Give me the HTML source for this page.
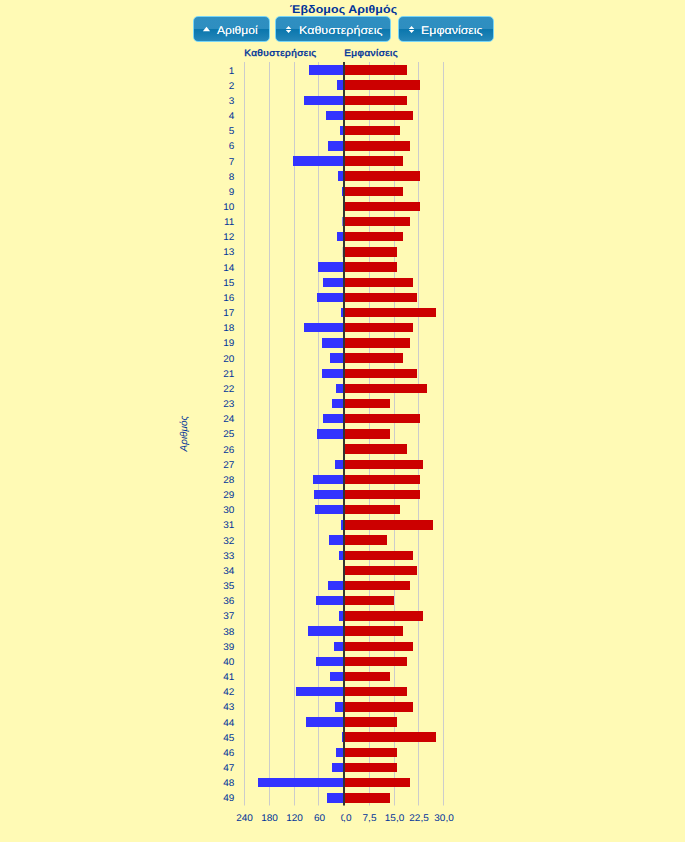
<!DOCTYPE html>
<html><head><meta charset="utf-8"><title>chart</title>
<style>
html,body{margin:0;padding:0;}
body{width:685px;height:842px;background:#fffab5;position:relative;overflow:hidden;text-rendering:geometricPrecision;font-family:"Liberation Sans",sans-serif;}
.title{position:absolute;left:0;width:685px;top:2px;left:1.2px;text-align:center;font-size:12px;letter-spacing:0.1px;font-weight:bold;color:#003399;line-height:14px;transform:scale(1.03,0.935);transform-origin:50% 11px;}
.btn{position:absolute;top:16px;height:24px;box-sizing:content-box;border:1px solid #77d5f7;border-radius:5px;
 background:linear-gradient(to bottom,#2f8fc1 0%,#2e8ec0 49%,#0a76ad 50%,#1a80b4 80%,#2788ba 100%);
 color:#fff;font-size:12px;line-height:24px;white-space:nowrap;text-shadow:0 0 0.6px rgba(255,255,255,0.7);}
.btn span{position:absolute;top:1px;transform:scale(1.025,0.935);transform-origin:0 16px;letter-spacing:0 !important;}
.btn svg{position:absolute;left:0;top:0;}
</style></head><body>
<div class="title">Έβδομος Αριθμός</div>
<svg width="685" height="842" style="position:absolute;left:0;top:0" font-family="Liberation Sans, sans-serif" text-rendering="geometricPrecision">
<rect x="244" y="62" width="1" height="743.5" fill="#cccccc"/>
<rect x="269" y="62" width="1" height="743.5" fill="#cccccc"/>
<rect x="294" y="62" width="1" height="743.5" fill="#cccccc"/>
<rect x="318" y="62" width="1" height="743.5" fill="#cccccc"/>
<rect x="369" y="62" width="1" height="743.5" fill="#cccccc"/>
<rect x="394" y="62" width="1" height="743.5" fill="#cccccc"/>
<rect x="418" y="62" width="1" height="743.5" fill="#cccccc"/>
<rect x="443" y="62" width="1" height="743.5" fill="#cccccc"/>
<rect x="309.0" y="65" width="35.00" height="10" fill="#3333ff"/>
<rect x="344" y="65" width="63.0" height="10" fill="#cc0000"/>
<text transform="translate(234.3,73.5) scale(1,0.97)" font-size="10" text-anchor="end" fill="#003399">1</text>
<rect x="337.0" y="80" width="7.00" height="10" fill="#3333ff"/>
<rect x="344" y="80" width="76.0" height="10" fill="#cc0000"/>
<text transform="translate(234.3,88.6) scale(1,0.97)" font-size="10" text-anchor="end" fill="#003399">2</text>
<rect x="304.0" y="96" width="40.00" height="9" fill="#3333ff"/>
<rect x="344" y="96" width="63.0" height="9" fill="#cc0000"/>
<text transform="translate(234.3,103.8) scale(1,0.97)" font-size="10" text-anchor="end" fill="#003399">3</text>
<rect x="326.0" y="111" width="18.00" height="9" fill="#3333ff"/>
<rect x="344" y="111" width="69.0" height="9" fill="#cc0000"/>
<text transform="translate(234.3,119.0) scale(1,0.97)" font-size="10" text-anchor="end" fill="#003399">4</text>
<rect x="340.0" y="126" width="4.00" height="9" fill="#3333ff"/>
<rect x="344" y="126" width="56.0" height="9" fill="#cc0000"/>
<text transform="translate(234.3,134.1) scale(1,0.97)" font-size="10" text-anchor="end" fill="#003399">5</text>
<rect x="328.0" y="141" width="16.00" height="10" fill="#3333ff"/>
<rect x="344" y="141" width="66.0" height="10" fill="#cc0000"/>
<text transform="translate(234.3,149.3) scale(1,0.97)" font-size="10" text-anchor="end" fill="#003399">6</text>
<rect x="293.0" y="156" width="51.00" height="10" fill="#3333ff"/>
<rect x="344" y="156" width="59.0" height="10" fill="#cc0000"/>
<text transform="translate(234.3,164.5) scale(1,0.97)" font-size="10" text-anchor="end" fill="#003399">7</text>
<rect x="338.0" y="171" width="6.00" height="10" fill="#3333ff"/>
<rect x="344" y="171" width="76.0" height="10" fill="#cc0000"/>
<text transform="translate(234.3,179.6) scale(1,0.97)" font-size="10" text-anchor="end" fill="#003399">8</text>
<rect x="342.0" y="187" width="2.00" height="9" fill="#3333ff"/>
<rect x="344" y="187" width="59.0" height="9" fill="#cc0000"/>
<text transform="translate(234.3,194.8) scale(1,0.97)" font-size="10" text-anchor="end" fill="#003399">9</text>
<rect x="344" y="202" width="76.0" height="9" fill="#cc0000"/>
<text transform="translate(234.3,210.0) scale(1,0.97)" font-size="10" text-anchor="end" fill="#003399">10</text>
<rect x="342.4" y="217" width="0.80" height="9" fill="#3333ff"/>
<rect x="344" y="217" width="66.0" height="9" fill="#cc0000"/>
<text transform="translate(234.3,225.1) scale(1,0.97)" font-size="10" text-anchor="end" fill="#003399">11</text>
<rect x="337.0" y="232" width="7.00" height="9" fill="#3333ff"/>
<rect x="344" y="232" width="59.0" height="9" fill="#cc0000"/>
<text transform="translate(234.3,240.3) scale(1,0.97)" font-size="10" text-anchor="end" fill="#003399">12</text>
<rect x="342.8" y="247" width="0.45" height="10" fill="#3333ff"/>
<rect x="344" y="247" width="53.0" height="10" fill="#cc0000"/>
<text transform="translate(234.3,255.4) scale(1,0.97)" font-size="10" text-anchor="end" fill="#003399">13</text>
<rect x="318.0" y="262" width="26.00" height="10" fill="#3333ff"/>
<rect x="344" y="262" width="53.0" height="10" fill="#cc0000"/>
<text transform="translate(234.3,270.6) scale(1,0.97)" font-size="10" text-anchor="end" fill="#003399">14</text>
<rect x="323.0" y="278" width="21.00" height="9" fill="#3333ff"/>
<rect x="344" y="278" width="69.0" height="9" fill="#cc0000"/>
<text transform="translate(234.3,285.8) scale(1,0.97)" font-size="10" text-anchor="end" fill="#003399">15</text>
<rect x="317.0" y="293" width="27.00" height="9" fill="#3333ff"/>
<rect x="344" y="293" width="73.0" height="9" fill="#cc0000"/>
<text transform="translate(234.3,300.9) scale(1,0.97)" font-size="10" text-anchor="end" fill="#003399">16</text>
<rect x="341.0" y="308" width="3.00" height="9" fill="#3333ff"/>
<rect x="344" y="308" width="92.0" height="9" fill="#cc0000"/>
<text transform="translate(234.3,316.1) scale(1,0.97)" font-size="10" text-anchor="end" fill="#003399">17</text>
<rect x="304.0" y="323" width="40.00" height="9" fill="#3333ff"/>
<rect x="344" y="323" width="69.0" height="9" fill="#cc0000"/>
<text transform="translate(234.3,331.3) scale(1,0.97)" font-size="10" text-anchor="end" fill="#003399">18</text>
<rect x="322.0" y="338" width="22.00" height="10" fill="#3333ff"/>
<rect x="344" y="338" width="66.0" height="10" fill="#cc0000"/>
<text transform="translate(234.3,346.4) scale(1,0.97)" font-size="10" text-anchor="end" fill="#003399">19</text>
<rect x="330.0" y="353" width="14.00" height="10" fill="#3333ff"/>
<rect x="344" y="353" width="59.0" height="10" fill="#cc0000"/>
<text transform="translate(234.3,361.6) scale(1,0.97)" font-size="10" text-anchor="end" fill="#003399">20</text>
<rect x="322.0" y="369" width="22.00" height="9" fill="#3333ff"/>
<rect x="344" y="369" width="73.0" height="9" fill="#cc0000"/>
<text transform="translate(234.3,376.7) scale(1,0.97)" font-size="10" text-anchor="end" fill="#003399">21</text>
<rect x="336.0" y="384" width="8.00" height="9" fill="#3333ff"/>
<rect x="344" y="384" width="83.0" height="9" fill="#cc0000"/>
<text transform="translate(234.3,391.9) scale(1,0.97)" font-size="10" text-anchor="end" fill="#003399">22</text>
<rect x="332.0" y="399" width="12.00" height="9" fill="#3333ff"/>
<rect x="344" y="399" width="46.0" height="9" fill="#cc0000"/>
<text transform="translate(234.3,407.1) scale(1,0.97)" font-size="10" text-anchor="end" fill="#003399">23</text>
<rect x="323.0" y="414" width="21.00" height="9" fill="#3333ff"/>
<rect x="344" y="414" width="76.0" height="9" fill="#cc0000"/>
<text transform="translate(234.3,422.2) scale(1,0.97)" font-size="10" text-anchor="end" fill="#003399">24</text>
<rect x="317.0" y="429" width="27.00" height="10" fill="#3333ff"/>
<rect x="344" y="429" width="46.0" height="10" fill="#cc0000"/>
<text transform="translate(234.3,437.4) scale(1,0.97)" font-size="10" text-anchor="end" fill="#003399">25</text>
<rect x="344" y="444" width="63.0" height="10" fill="#cc0000"/>
<text transform="translate(234.3,452.6) scale(1,0.97)" font-size="10" text-anchor="end" fill="#003399">26</text>
<rect x="335.0" y="460" width="9.00" height="9" fill="#3333ff"/>
<rect x="344" y="460" width="79.0" height="9" fill="#cc0000"/>
<text transform="translate(234.3,467.7) scale(1,0.97)" font-size="10" text-anchor="end" fill="#003399">27</text>
<rect x="313.0" y="475" width="31.00" height="9" fill="#3333ff"/>
<rect x="344" y="475" width="76.0" height="9" fill="#cc0000"/>
<text transform="translate(234.3,482.9) scale(1,0.97)" font-size="10" text-anchor="end" fill="#003399">28</text>
<rect x="314.0" y="490" width="30.00" height="9" fill="#3333ff"/>
<rect x="344" y="490" width="76.0" height="9" fill="#cc0000"/>
<text transform="translate(234.3,498.1) scale(1,0.97)" font-size="10" text-anchor="end" fill="#003399">29</text>
<rect x="315.0" y="505" width="29.00" height="9" fill="#3333ff"/>
<rect x="344" y="505" width="56.0" height="9" fill="#cc0000"/>
<text transform="translate(234.3,513.2) scale(1,0.97)" font-size="10" text-anchor="end" fill="#003399">30</text>
<rect x="341.0" y="520" width="3.00" height="10" fill="#3333ff"/>
<rect x="344" y="520" width="89.0" height="10" fill="#cc0000"/>
<text transform="translate(234.3,528.4) scale(1,0.97)" font-size="10" text-anchor="end" fill="#003399">31</text>
<rect x="329.0" y="535" width="15.00" height="10" fill="#3333ff"/>
<rect x="344" y="535" width="43.0" height="10" fill="#cc0000"/>
<text transform="translate(234.3,543.5) scale(1,0.97)" font-size="10" text-anchor="end" fill="#003399">32</text>
<rect x="339.0" y="551" width="5.00" height="9" fill="#3333ff"/>
<rect x="344" y="551" width="69.0" height="9" fill="#cc0000"/>
<text transform="translate(234.3,558.7) scale(1,0.97)" font-size="10" text-anchor="end" fill="#003399">33</text>
<rect x="344" y="566" width="73.0" height="9" fill="#cc0000"/>
<text transform="translate(234.3,573.9) scale(1,0.97)" font-size="10" text-anchor="end" fill="#003399">34</text>
<rect x="328.0" y="581" width="16.00" height="9" fill="#3333ff"/>
<rect x="344" y="581" width="66.0" height="9" fill="#cc0000"/>
<text transform="translate(234.3,589.0) scale(1,0.97)" font-size="10" text-anchor="end" fill="#003399">35</text>
<rect x="316.0" y="596" width="28.00" height="9" fill="#3333ff"/>
<rect x="344" y="596" width="50.0" height="9" fill="#cc0000"/>
<text transform="translate(234.3,604.2) scale(1,0.97)" font-size="10" text-anchor="end" fill="#003399">36</text>
<rect x="339.0" y="611" width="5.00" height="10" fill="#3333ff"/>
<rect x="344" y="611" width="79.0" height="10" fill="#cc0000"/>
<text transform="translate(234.3,619.4) scale(1,0.97)" font-size="10" text-anchor="end" fill="#003399">37</text>
<rect x="308.0" y="626" width="36.00" height="10" fill="#3333ff"/>
<rect x="344" y="626" width="59.0" height="10" fill="#cc0000"/>
<text transform="translate(234.3,634.5) scale(1,0.97)" font-size="10" text-anchor="end" fill="#003399">38</text>
<rect x="334.0" y="642" width="10.00" height="9" fill="#3333ff"/>
<rect x="344" y="642" width="69.0" height="9" fill="#cc0000"/>
<text transform="translate(234.3,649.7) scale(1,0.97)" font-size="10" text-anchor="end" fill="#003399">39</text>
<rect x="316.0" y="657" width="28.00" height="9" fill="#3333ff"/>
<rect x="344" y="657" width="63.0" height="9" fill="#cc0000"/>
<text transform="translate(234.3,664.8) scale(1,0.97)" font-size="10" text-anchor="end" fill="#003399">40</text>
<rect x="330.0" y="672" width="14.00" height="9" fill="#3333ff"/>
<rect x="344" y="672" width="46.0" height="9" fill="#cc0000"/>
<text transform="translate(234.3,680.0) scale(1,0.97)" font-size="10" text-anchor="end" fill="#003399">41</text>
<rect x="296.0" y="687" width="48.00" height="9" fill="#3333ff"/>
<rect x="344" y="687" width="63.0" height="9" fill="#cc0000"/>
<text transform="translate(234.3,695.2) scale(1,0.97)" font-size="10" text-anchor="end" fill="#003399">42</text>
<rect x="335.0" y="702" width="9.00" height="10" fill="#3333ff"/>
<rect x="344" y="702" width="69.0" height="10" fill="#cc0000"/>
<text transform="translate(234.3,710.3) scale(1,0.97)" font-size="10" text-anchor="end" fill="#003399">43</text>
<rect x="306.0" y="717" width="38.00" height="10" fill="#3333ff"/>
<rect x="344" y="717" width="53.0" height="10" fill="#cc0000"/>
<text transform="translate(234.3,725.5) scale(1,0.97)" font-size="10" text-anchor="end" fill="#003399">44</text>
<rect x="342.0" y="732" width="2.00" height="10" fill="#3333ff"/>
<rect x="344" y="732" width="92.0" height="10" fill="#cc0000"/>
<text transform="translate(234.3,740.7) scale(1,0.97)" font-size="10" text-anchor="end" fill="#003399">45</text>
<rect x="336.0" y="748" width="8.00" height="9" fill="#3333ff"/>
<rect x="344" y="748" width="53.0" height="9" fill="#cc0000"/>
<text transform="translate(234.3,755.8) scale(1,0.97)" font-size="10" text-anchor="end" fill="#003399">46</text>
<rect x="332.0" y="763" width="12.00" height="9" fill="#3333ff"/>
<rect x="344" y="763" width="53.0" height="9" fill="#cc0000"/>
<text transform="translate(234.3,771.0) scale(1,0.97)" font-size="10" text-anchor="end" fill="#003399">47</text>
<rect x="258.0" y="778" width="86.00" height="9" fill="#3333ff"/>
<rect x="344" y="778" width="66.0" height="9" fill="#cc0000"/>
<text transform="translate(234.3,786.2) scale(1,0.97)" font-size="10" text-anchor="end" fill="#003399">48</text>
<rect x="327.0" y="793" width="17.00" height="10" fill="#3333ff"/>
<rect x="344" y="793" width="46.0" height="10" fill="#cc0000"/>
<text transform="translate(234.3,801.3) scale(1,0.97)" font-size="10" text-anchor="end" fill="#003399">49</text>
<rect x="343" y="62" width="2" height="743.5" fill="#333333"/>
<text transform="translate(244.2,56) scale(1,0.935)" font-size="10" letter-spacing="0.42" stroke="#003399" stroke-width="0.4" fill="#003399">Καθυστερήσεις</text>
<text transform="translate(344.2,56) scale(1,0.935)" font-size="10" letter-spacing="0.42" stroke="#003399" stroke-width="0.4" fill="#003399">Εμφανίσεις</text>
<text transform="translate(244.5,821) scale(1,0.97)" font-size="10" text-anchor="middle" fill="#003399">240</text>
<text transform="translate(269.5,821) scale(1,0.97)" font-size="10" text-anchor="middle" fill="#003399">180</text>
<text transform="translate(294.5,821) scale(1,0.97)" font-size="10" text-anchor="middle" fill="#003399">120</text>
<text transform="translate(319.5,821) scale(1,0.97)" font-size="10" text-anchor="middle" fill="#003399">60</text>
<text transform="translate(369.5,821) scale(1,0.97)" font-size="10" text-anchor="middle" fill="#003399">7,5</text>
<text transform="translate(394.5,821) scale(1,0.97)" font-size="10" text-anchor="middle" fill="#003399">15,0</text>
<text transform="translate(419,821) scale(1,0.97)" font-size="10" text-anchor="middle" fill="#003399">22,5</text>
<text transform="translate(444,821) scale(1,0.97)" font-size="10" text-anchor="middle" fill="#003399">30,0</text>
<clipPath id="c1"><rect x="330" y="805" width="13.7" height="30"/></clipPath>
<clipPath id="c2"><rect x="344.0" y="805" width="30" height="30"/></clipPath>
<g clip-path="url(#c1)"><text transform="translate(343.6,821) scale(1,0.97)" font-size="10" text-anchor="middle" fill="#003399">0</text></g>
<g clip-path="url(#c2)"><text transform="translate(344.5,821) scale(1,0.97)" font-size="10" text-anchor="middle" fill="#003399">0,0</text></g>
<text transform="translate(187.3,433.6) rotate(-90) scale(0.99,1)" font-size="10" font-style="italic" text-anchor="middle" fill="#003399">Αριθμός</text>
</svg>
<div class="btn" style="left:193.4px;width:74.6px;"><svg width="30" height="24"><path d="M8.9 14.2 L12.5 9.8 L16.1 14.2 Z" fill="#fff"/></svg><span style="left:23.0px;transform:scale(1.005,0.935)">Αριθμοί</span></div>
<div class="btn" style="left:275.3px;width:114.1px;"><svg width="30" height="24"><path d="M9.8 12 L12.55 9 L15.3 12 Z M9.8 13.1 L12.55 16.1 L15.3 13.1 Z" fill="#fff"/></svg><span style="left:22.4px;transform:scale(1.04,0.935)">Καθυστερήσεις</span></div>
<div class="btn" style="left:397.5px;width:94.1px;"><svg width="30" height="24"><path d="M9.8 12 L12.55 9 L15.3 12 Z M9.8 13.1 L12.55 16.1 L15.3 13.1 Z" fill="#fff"/></svg><span style="left:22.7px;transform:scale(1.035,0.935)">Εμφανίσεις</span></div>
</body></html>
